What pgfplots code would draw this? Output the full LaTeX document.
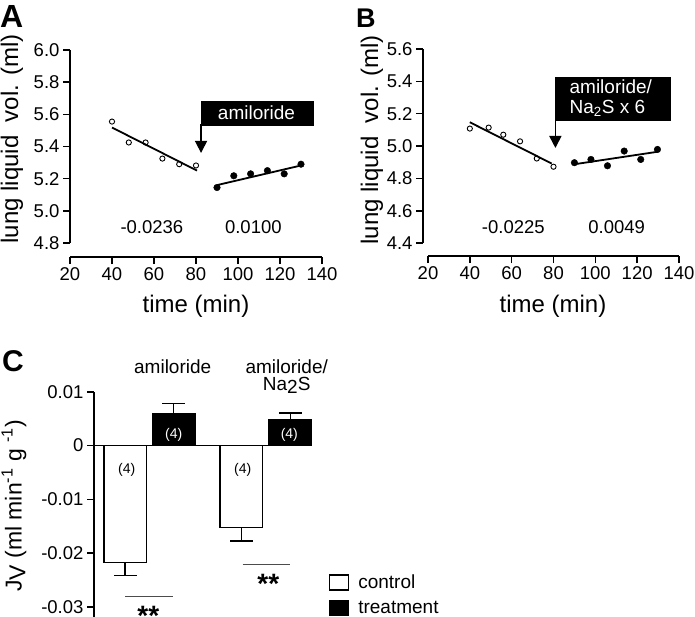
\documentclass[border=0pt]{standalone}
\usepackage{pgfplots}
\pgfplotsset{compat=1.18}
\usepackage{fontspec}
\setmainfont{Liberation Sans}
\usetikzlibrary{arrows.meta}
\newcommand{\tk}{\fontsize{18.5}{22}\selectfont}
\newcommand{\lb}{\fontsize{24}{28}\selectfont}
\newcommand{\sm}{\fontsize{14}{16}\selectfont}
\pgfplotsset{
  prism/.style={
    scale only axis,
    axis x line*=bottom, axis y line*=left,
    axis line style={line width=1.6pt, -},
    tick style={line width=1.6pt, black},
    major tick length=7pt,
    tick align=outside,
    ticklabel style={font=\tk},
    /pgf/number format/assume math mode=true,
    clip=false,
  },
}
\begin{document}
\begin{tikzpicture}
\useasboundingbox (0pt,0pt) rectangle (695pt,-616pt);
% ---------------- Panel A ----------------
\begin{axis}[prism,
  at={(70pt,-257pt)}, anchor=south west,
  width=252pt, height=207pt,
  xmin=20, xmax=140, ymin=4.713, ymax=6.0,
  xtick={20,40,60,80,100,120,140},
  ytick={4.8,5.0,5.2,5.4,5.6,5.8,6.0},
  yticklabel style={/pgf/number format/.cd, fixed, fixed zerofill, precision=1},
  y axis line style={shorten <=14pt},
]
\addplot[only marks, mark=o, mark size=2.6pt, mark options={line width=0.9pt}, black]
  coordinates {(40,5.555) (48,5.425) (56,5.425) (64,5.325) (72,5.29) (80,5.282)};
\addplot[black, line width=1.8pt] coordinates {(40,5.518) (80.5,5.25)};
\addplot[only marks, mark=*, mark size=3.3pt, black]
  coordinates {(90,5.145) (98,5.218) (106,5.23) (114,5.25) (122,5.23) (130,5.29)};
\addplot[black, line width=1.8pt] coordinates {(90,5.16) (130,5.282)};
\fill[black] (axis cs:82.4,5.685) rectangle (axis cs:136,5.53);
\node[white, font=\fontsize{19}{22}\selectfont] at (axis cs:108.8,5.608) {amiloride};
\draw[line width=1.6pt, -{Triangle[width=12pt,length=12pt]}] (axis cs:82.4,5.54) -- (axis cs:82.4,5.36);
\node[font=\tk] at (axis cs:59,4.901) {-0.0236};
\node[font=\tk] at (axis cs:107.3,4.901) {0.0100};
\end{axis}
% ---------------- Panel B ----------------
\begin{axis}[prism,
  at={(423pt,-256pt)}, anchor=south west,
  width=256pt, height=207pt,
  xmin=17.61, xmax=140, ymin=4.32, ymax=5.6,
  xtick={20,40,60,80,100,120,140},
  ytick={4.4,4.6,4.8,5.0,5.2,5.4,5.6},
  yticklabel style={/pgf/number format/.cd, fixed, fixed zerofill, precision=1},
  y axis line style={shorten <=13pt},
  x axis line style={shorten <=5pt},
]
\addplot[only marks, mark=o, mark size=2.6pt, mark options={line width=0.9pt}, black]
  coordinates {(40,5.108) (49,5.114) (56,5.07) (64,5.029) (72,4.923) (80,4.872)};
\addplot[black, line width=1.8pt] coordinates {(40,5.147) (79.1,4.892)};
\addplot[only marks, mark=*, mark size=3.3pt, black]
  coordinates {(90,4.897) (97.9,4.917) (105.8,4.878) (113.8,4.969) (121.7,4.917) (129.7,4.979)};
\addplot[black, line width=1.8pt] coordinates {(90.3,4.888) (130,4.965)};
\fill[black] (axis cs:80.7,5.427) rectangle (axis cs:136.2,5.155);
\node[white, align=left, font=\fontsize{19}{20}\selectfont] at (axis cs:107.4,5.297) {amiloride/\\Na\textsubscript{2}S x 6};
\draw[line width=1.6pt, -{Triangle[width=12pt,length=12pt]}] (axis cs:80.9,5.165) -- (axis cs:80.9,4.988);
\node[font=\tk] at (axis cs:60.8,4.501) {-0.0225};
\node[font=\tk] at (axis cs:110.2,4.501) {0.0049};
\end{axis}
% ---------------- Panel C ----------------
\begin{axis}[prism,
  at={(94pt,-617.8pt)}, anchor=south west,
  width=218pt, height=226.1pt,
  xmin=0, xmax=218, ymin=-0.032, ymax=0.01,
  axis x line=none,
  ytick={-0.03,-0.02,-0.01,0,0.01},
  scaled y ticks=false,
  yticklabel style={/pgf/number format/.cd, fixed, precision=2},
  legend style={at={(axis description cs:1.075,0.199)}, anchor=north west,
    draw=none, fill=none, font=\fontsize{19}{22}\selectfont, row sep=7pt,
    inner sep=0pt},
  legend cell align=left,
]
\addlegendimage{legend image code/.code={\draw[black, line width=1.5pt, fill=white] (0pt,-7.5pt) rectangle (19pt,7.5pt); \path[draw=none, fill=none] (0pt,0pt) -- (27pt,0pt);}}
\addlegendentry{control}
\addlegendimage{legend image code/.code={\draw[black, line width=1.5pt, fill=black] (0pt,-7.5pt) rectangle (19pt,7.5pt); \path[draw=none, fill=none] (0pt,0pt) -- (27pt,0pt);}}
\addlegendentry{treatment}
\addplot[ybar, bar width=42.5pt, draw=black, fill=white, line width=1.5pt, forget plot,
  error bars/.cd, y dir=minus, y explicit,
  error bar style={line width=1.5pt, black},
  error mark options={black, line width=1.5pt, mark size=11.5pt, rotate=90}]
  coordinates {(31,-0.0217) +- (0,0.0024) (147.3,-0.0152) +- (0,0.0025)};
\addplot[ybar, bar width=42.5pt, draw=black, fill=black, line width=1.5pt, forget plot,
  error bars/.cd, y dir=plus, y explicit,
  error bar style={line width=1.5pt, black},
  error mark options={black, line width=1.5pt, mark size=11.5pt, rotate=90}]
  coordinates {(79.7,0.0059) +- (0,0.0019) (196.3,0.0047) +- (0,0.0013)};
\draw[line width=1.6pt] (axis cs:0,0) -- (axis cs:218.3,0);
\node[font=\sm] at (axis cs:32.7,-0.0045) {(4)};
\node[font=\sm] at (axis cs:148.7,-0.0045) {(4)};
\node[font=\sm, white] at (axis cs:79.7,0.0019) {(4)};
\node[font=\sm, white] at (axis cs:195.3,0.0019) {(4)};
\draw[black!70, line width=0.8pt] (axis cs:31,-0.02805) -- (axis cs:79.3,-0.02805);
\draw[black!70, line width=0.8pt] (axis cs:148.7,-0.022) -- (axis cs:196,-0.022);
\node[font=\fontsize{28}{30}\selectfont\bfseries, anchor=north, inner sep=0pt] at (axis cs:54.3,-0.0299) {**};
\node[font=\fontsize{28}{30}\selectfont\bfseries, anchor=north, inner sep=0pt] at (axis cs:174.3,-0.02396) {**};
\node[font=\fontsize{19}{22}\selectfont] at (axis cs:78.7,0.01468) {amiloride};
\node[font=\fontsize{19}{22}\selectfont] at (axis cs:192.7,0.01468) {amiloride/};
\node[font=\fontsize{19}{22}\selectfont] at (axis cs:192.7,0.01115) {Na\raisebox{-0.25ex}{2}S};
\end{axis}
% ---------------- labels ----------------
\node[font=\lb] at (196pt,-306.5pt) {time (min)};
\node[font=\lb] at (553pt,-306.5pt) {time (min)};
\node[font=\lb, rotate=90] at (12pt,-139pt) {lung liquid\ \ vol. (ml)};
\node[font=\lb, rotate=90] at (372pt,-140pt) {lung liquid\ \ vol. (ml)};
\node[font=\fontsize{23}{26}\selectfont, rotate=90] at (14pt,-506pt) {J\raisebox{-0.3ex}{V} (ml min\textsuperscript{-1} g \textsuperscript{-1})};
\node[font=\fontsize{32}{34}\selectfont\bfseries, anchor=north west, inner sep=0pt] at (0pt,-5pt) {A};
\node[font=\fontsize{27}{30}\selectfont\bfseries, anchor=north west, inner sep=0pt] at (356pt,-9pt) {B};
\node[font=\fontsize{30}{32}\selectfont\bfseries, anchor=north west, inner sep=0pt] at (2pt,-350pt) {C};
\end{tikzpicture}
\end{document}
